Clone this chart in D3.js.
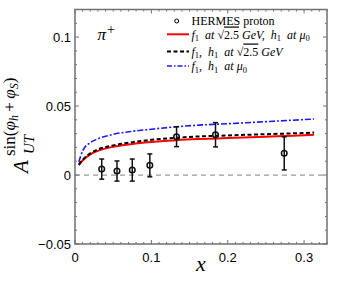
<!DOCTYPE html>
<html><head><meta charset="utf-8">
<script src="https://cdn.jsdelivr.net/npm/d3@7/dist/d3.min.js"></script>
<style>body{margin:0;background:#fff}svg{display:block}</style>
</head><body>
<svg id="c" width="338" height="295"></svg>
<script>
// data
const dataX = [0.035, 0.055, 0.075, 0.098, 0.133, 0.184, 0.274];
const dataY = [0.0043, 0.0029, 0.0036, 0.0070, 0.0278, 0.0292, 0.0157];
const dataErr = [0.0073, 0.0073, 0.0080, 0.0083, 0.0072, 0.0088, 0.0120];
const curveX = [0.005, 0.01, 0.02, 0.03, 0.05, 0.075, 0.1, 0.133, 0.163, 0.2, 0.25, 0.3, 0.313];
const curveRed = [0.0072, 0.0105, 0.0150, 0.0175, 0.0205, 0.0225, 0.0239, 0.0253, 0.0261, 0.0268, 0.0278, 0.0289, 0.0293];
const curveBlack = [0.0075, 0.0110, 0.0158, 0.0185, 0.0215, 0.0238, 0.0255, 0.0270, 0.0280, 0.0287, 0.0296, 0.0305, 0.0308];
const curveBlue = [0.0095, 0.0175, 0.0235, 0.0262, 0.0295, 0.0317, 0.0332, 0.0350, 0.0362, 0.0372, 0.0387, 0.0402, 0.0406];
const xTicks = [0, 0.1, 0.2, 0.3];
const xTickLabels = ["0", "0.1", "0.2", "0.3"];
const yTicks = [-0.05, 0, 0.05, 0.1];
const yTickLabels = ["\u22120.05", "0", "0.05", "0.1"];

const svg = d3.select("#c");
const L = 75, R = 327, T = 9.5, B = 244;
const x = d3.scaleLinear().domain([0, 0.33]).range([L, R]);
const y = d3.scaleLinear().domain([-0.05, 0.12]).range([B, T]);
const frame = "#707070";

// zero line
svg.append("line").attr("x1", L).attr("x2", R).attr("y1", y(0)).attr("y2", y(0))
  .attr("stroke", "#999").attr("stroke-width", 1.2).attr("stroke-dasharray", "5,4");

// axes with inner ticks
const minorX = d3.range(0, 0.331, 0.01);
const minorY = d3.range(-0.05, 0.1201, 0.01);
function isMajor(v, arr){ return arr.some(t => Math.abs(t - v) < 1e-6); }
const tk = svg.append("g").attr("stroke", frame).attr("stroke-width", 1);
minorX.forEach(v => {
  const len = isMajor(v, xTicks) ? 4 : 2;
  tk.append("line").attr("x1", x(v)).attr("x2", x(v)).attr("y1", B).attr("y2", B - len);
  tk.append("line").attr("x1", x(v)).attr("x2", x(v)).attr("y1", T).attr("y2", T + len);
});
minorY.forEach(v => {
  const len = isMajor(v, yTicks) ? 4 : 2;
  tk.append("line").attr("y1", y(v)).attr("y2", y(v)).attr("x1", L).attr("x2", L + len);
  tk.append("line").attr("y1", y(v)).attr("y2", y(v)).attr("x1", R).attr("x2", R - len);
});
svg.append("rect").attr("x", L).attr("y", T).attr("width", R - L).attr("height", B - T)
  .attr("fill", "none").attr("stroke", frame).attr("stroke-width", 1.5);

// tick labels
const tf = "'Liberation Sans', Arial, sans-serif";
xTicks.forEach((v, i) => {
  svg.append("text").attr("x", x(v)).attr("y", 262).attr("text-anchor", "middle")
    .attr("font-family", tf).attr("font-size", 13).text(xTickLabels[i]);
});
yTicks.forEach((v, i) => {
  svg.append("text").attr("x", 71).attr("y", y(v) + 5).attr("text-anchor", "end")
    .attr("font-family", tf).attr("font-size", 13).text(yTickLabels[i]);
});

// curves
const line = d3.line().x(d => x(d[0])).y(d => y(d[1])).curve(d3.curveMonotoneX);
const mk = arr => curveX.map((v, i) => [v, arr[i]]);
svg.append("path").attr("d", line(mk(curveBlue))).attr("fill", "none")
  .attr("stroke", "#1a1aff").attr("stroke-width", 1.6).attr("stroke-dasharray", "6,2,2,2");
svg.append("path").attr("d", line(mk(curveRed))).attr("fill", "none")
  .attr("stroke", "#ff0000").attr("stroke-width", 2);
svg.append("path").attr("d", line(mk(curveBlack))).attr("fill", "none")
  .attr("stroke", "#000").attr("stroke-width", 2).attr("stroke-dasharray", "4,2.5");

// data points
const pts = svg.append("g").attr("stroke", "#111").attr("stroke-width", 1.5).attr("fill", "none");
dataX.forEach((v, i) => {
  const cx = x(v), y1 = y(dataY[i] + dataErr[i]), y2 = y(dataY[i] - dataErr[i]);
  pts.append("line").attr("x1", cx).attr("x2", cx).attr("y1", y1).attr("y2", y2);
  pts.append("line").attr("x1", cx - 2.5).attr("x2", cx + 2.5).attr("y1", y1).attr("y2", y1);
  pts.append("line").attr("x1", cx - 2.5).attr("x2", cx + 2.5).attr("y1", y2).attr("y2", y2);
  pts.append("circle").attr("cx", cx).attr("cy", y(dataY[i])).attr("r", 2.8);
});

// legend
const sf = "'Liberation Serif', 'Times New Roman', serif";
const lg = svg.append("g").attr("font-family", sf).attr("font-size", 12);
lg.append("circle").attr("cx", 176.7).attr("cy", 21).attr("r", 2).attr("fill", "none").attr("stroke", "#000").attr("stroke-width", 1);
lg.append("text").attr("x", 191.5).attr("y", 25).text("HERMES proton");
lg.append("line").attr("x1", 167).attr("x2", 189).attr("y1", 34.3).attr("y2", 34.3).attr("stroke", "#f00").attr("stroke-width", 2);
lg.append("line").attr("x1", 167).attr("x2", 189).attr("y1", 51.5).attr("y2", 51.5).attr("stroke", "#000").attr("stroke-width", 2).attr("stroke-dasharray", "4,2.5");
lg.append("line").attr("x1", 167).attr("x2", 189).attr("y1", 66).attr("y2", 66).attr("stroke", "#1a1aff").attr("stroke-width", 1.5).attr("stroke-dasharray", "5,2,1.5,2");

function mathText(g, xx, yy, parts){
  const t = g.append("text").attr("x", xx).attr("y", yy).attr("font-style", "italic");
  parts.forEach(p => {
    const s = t.append("tspan").text(p.t);
    if (p.sub) s.attr("font-size", 8.5).attr("dy", 2.5);
    if (p.up) s.attr("dy", -2.5);
    if (p.normal) s.attr("font-style", "normal");
    if (p.over) s.attr("text-decoration", "overline");
  });
  return t;
}
mathText(lg, 191.5, 38.5, [
  {t:"f"},{t:"1",sub:1,normal:1},{t:"\u2002at ",up:1},{t:"\u221A",normal:1},{t:"2.5",normal:1,over:1},
  {t:" GeV,\u2002h"},{t:"1",sub:1,normal:1},{t:"\u2002at \u03BC",up:1},{t:"0",sub:1,normal:1}
]);
mathText(lg, 191.5, 55.5, [
  {t:"f"},{t:"1",sub:1,normal:1},{t:",\u2002h",up:1},{t:"1",sub:1,normal:1},{t:"\u2002at ",up:1},{t:"\u221A",normal:1},{t:"2.5",normal:1,over:1},{t:" GeV"}
]);
mathText(lg, 191.5, 70, [
  {t:"f"},{t:"1",sub:1,normal:1},{t:",\u2002h",up:1},{t:"1",sub:1,normal:1},{t:"\u2002at \u03BC",up:1},{t:"0",sub:1,normal:1}
]);

// pi+ label
const pl = svg.append("text").attr("x", 97.5).attr("y", 40).attr("font-family", sf).attr("font-size", 17);
pl.append("tspan").attr("font-style", "italic").text("\u03C0");
pl.append("tspan").attr("font-size", 14).attr("dx", 1).attr("dy", -6).text("+");

// x axis label
svg.append("text").attr("x", 201).attr("y", 271).attr("text-anchor", "middle")
  .attr("font-family", sf).attr("font-style", "italic").attr("font-size", 22).text("x");

// y axis label
const yl = svg.append("g").attr("transform", "translate(28,173) rotate(-90)").attr("font-family", sf);
yl.append("text").attr("x", 0).attr("y", 0).attr("font-size", 21).attr("font-style", "italic").text("A");
yl.append("text").attr("x", 19).attr("y", 6).attr("font-size", 15).attr("font-style", "italic").text("UT");
const sup = yl.append("text").attr("x", 17).attr("y", -13).attr("font-size", 17);
sup.append("tspan").text("sin(");
sup.append("tspan").attr("font-style", "italic").text("\u03C6");
sup.append("tspan").attr("font-style", "italic").attr("font-size", 12).attr("dy", 3).text("h");
sup.append("tspan").attr("dy", -3).text("\u2009+\u2009");
sup.append("tspan").attr("font-style", "italic").text("\u03C6");
sup.append("tspan").attr("font-style", "italic").attr("font-size", 12).attr("dy", 3).text("S");
sup.append("tspan").attr("dy", -3).text(")");
</script>
</body></html>
